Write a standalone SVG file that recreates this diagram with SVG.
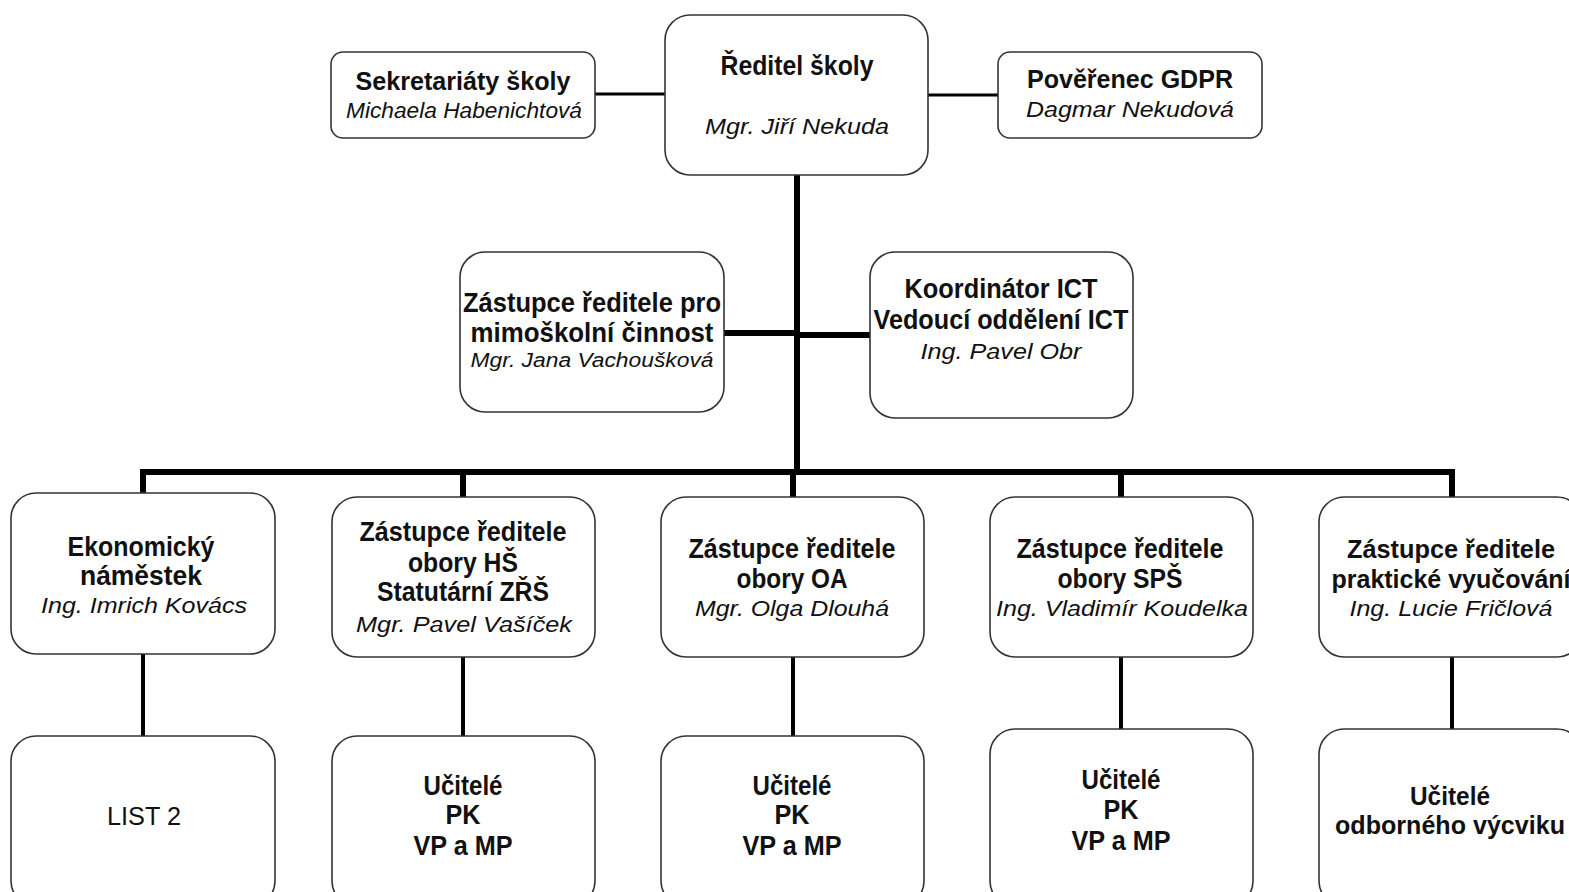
<svg xmlns="http://www.w3.org/2000/svg" width="1569" height="892" viewBox="0 0 1569 892">
<style>
.box{fill:#fff;stroke:#333;stroke-width:1.6}
.b{font-family:"Liberation Sans",Arial,sans-serif;font-weight:bold;font-size:25px;fill:#111;text-anchor:middle}
.c{font-family:"Liberation Sans",Arial,sans-serif;font-weight:bold;font-size:27px;fill:#111;text-anchor:middle}
.i{font-family:"Liberation Sans",Arial,sans-serif;font-style:italic;font-size:22px;fill:#111;text-anchor:middle}
.is{font-family:"Liberation Sans",Arial,sans-serif;font-style:italic;font-size:20px;fill:#111;text-anchor:middle}
.n{font-family:"Liberation Sans",Arial,sans-serif;font-size:26px;fill:#111;text-anchor:middle}
.w{stroke:#000;fill:none}
</style>
<rect width="1569" height="892" fill="#fff"/>
<g id="connectors">
<line class="w" x1="595" y1="94" x2="665" y2="94" stroke-width="3"/>
<line class="w" x1="928" y1="95" x2="998" y2="95" stroke-width="3"/>
<line class="w" x1="797" y1="175" x2="797" y2="475" stroke-width="6"/>
<line class="w" x1="724" y1="333" x2="797" y2="333" stroke-width="6"/>
<line class="w" x1="797" y1="335" x2="870" y2="335" stroke-width="6"/>
<line class="w" x1="140" y1="472" x2="1455" y2="472" stroke-width="6"/>
<line class="w" x1="143" y1="472" x2="143" y2="493" stroke-width="6"/>
<line class="w" x1="463" y1="472" x2="463" y2="497" stroke-width="6"/>
<line class="w" x1="793" y1="472" x2="793" y2="497" stroke-width="6"/>
<line class="w" x1="1121" y1="472" x2="1121" y2="497" stroke-width="6"/>
<line class="w" x1="1452" y1="472" x2="1452" y2="497" stroke-width="6"/>
<line class="w" x1="143" y1="654" x2="143" y2="736" stroke-width="4"/>
<line class="w" x1="463" y1="657" x2="463" y2="736" stroke-width="4"/>
<line class="w" x1="793" y1="657" x2="793" y2="736" stroke-width="4"/>
<line class="w" x1="1121" y1="657" x2="1121" y2="729" stroke-width="4"/>
<line class="w" x1="1452" y1="657" x2="1452" y2="729" stroke-width="4"/>
</g>
<g id="reditel">
<rect class="box" x="665" y="15" width="263" height="160" rx="25"/>
<text class="c" x="797" y="75" textLength="153" lengthAdjust="spacingAndGlyphs">Ředitel školy</text>
<text class="i" x="797" y="134" textLength="184" lengthAdjust="spacingAndGlyphs">Mgr. Jiří Nekuda</text>
</g>
<g id="sekretariaty">
<rect class="box" x="331" y="52" width="264" height="86" rx="12"/>
<text class="b" x="463" y="90" textLength="215" lengthAdjust="spacingAndGlyphs">Sekretariáty školy</text>
<text class="i" x="464" y="118" textLength="236" lengthAdjust="spacingAndGlyphs">Michaela Habenichtová</text>
</g>
<g id="gdpr">
<rect class="box" x="998" y="52" width="264" height="86" rx="12"/>
<text class="b" x="1130" y="88" textLength="206" lengthAdjust="spacingAndGlyphs">Pověřenec GDPR</text>
<text class="i" x="1130" y="117" textLength="208" lengthAdjust="spacingAndGlyphs">Dagmar Nekudová</text>
</g>
<g id="mimoskolni">
<rect class="box" x="460" y="252" width="264" height="160" rx="25"/>
<text class="c" x="592" y="312" textLength="258" lengthAdjust="spacingAndGlyphs">Zástupce ředitele pro</text>
<text class="c" x="592" y="342" textLength="243" lengthAdjust="spacingAndGlyphs">mimoškolní  činnost</text>
<text class="is" x="592" y="367" textLength="243" lengthAdjust="spacingAndGlyphs">Mgr. Jana Vachoušková</text>
</g>
<g id="ict">
<rect class="box" x="870" y="252" width="263" height="166" rx="25"/>
<text class="c" x="1001" y="298" textLength="193" lengthAdjust="spacingAndGlyphs">Koordinátor ICT</text>
<text class="c" x="1001" y="329" textLength="255" lengthAdjust="spacingAndGlyphs">Vedoucí oddělení ICT</text>
<text class="i" x="1001" y="359" textLength="161" lengthAdjust="spacingAndGlyphs">Ing. Pavel Obr</text>
</g>
<g id="ekonom">
<rect class="box" x="11" y="493" width="264" height="161" rx="25"/>
<text class="c" x="141" y="556" textLength="147" lengthAdjust="spacingAndGlyphs">Ekonomický</text>
<text class="c" x="141" y="585" textLength="122" lengthAdjust="spacingAndGlyphs">náměstek</text>
<text class="i" x="144" y="613" textLength="206" lengthAdjust="spacingAndGlyphs">Ing. Imrich Kovács</text>
</g>
<g id="zrs-hs">
<rect class="box" x="332" y="497" width="263" height="160" rx="25"/>
<text class="c" x="463" y="541" textLength="207" lengthAdjust="spacingAndGlyphs">Zástupce ředitele</text>
<text class="c" x="463" y="572" textLength="110" lengthAdjust="spacingAndGlyphs">obory HŠ</text>
<text class="c" x="463" y="601" textLength="172" lengthAdjust="spacingAndGlyphs">Statutární ZŘŠ</text>
<text class="i" x="464" y="632" textLength="216" lengthAdjust="spacingAndGlyphs">Mgr. Pavel Vašíček</text>
</g>
<g id="zrs-oa">
<rect class="box" x="661" y="497" width="263" height="160" rx="25"/>
<text class="c" x="792" y="558" textLength="207" lengthAdjust="spacingAndGlyphs">Zástupce ředitele</text>
<text class="c" x="792" y="588" textLength="111" lengthAdjust="spacingAndGlyphs">obory OA</text>
<text class="i" x="792" y="616" textLength="194" lengthAdjust="spacingAndGlyphs">Mgr. Olga Dlouhá</text>
</g>
<g id="zrs-sps">
<rect class="box" x="990" y="497" width="263" height="160" rx="25"/>
<text class="c" x="1120" y="558" textLength="207" lengthAdjust="spacingAndGlyphs">Zástupce ředitele</text>
<text class="c" x="1120" y="588" textLength="125" lengthAdjust="spacingAndGlyphs">obory SPŠ</text>
<text class="i" x="1122" y="616" textLength="252" lengthAdjust="spacingAndGlyphs">Ing. Vladimír Koudelka</text>
</g>
<g id="zrs-pv">
<rect class="box" x="1319" y="497" width="263" height="160" rx="25"/>
<text class="b" x="1451" y="558" textLength="208" lengthAdjust="spacingAndGlyphs">Zástupce ředitele</text>
<text class="b" x="1451" y="588">praktické vyučování</text>
<text class="i" x="1451" y="616" textLength="203" lengthAdjust="spacingAndGlyphs">Ing. Lucie Fričlová</text>
</g>
<g id="list2">
<rect class="box" x="11" y="736" width="264" height="170" rx="25"/>
<text class="n" x="144" y="825" textLength="74" lengthAdjust="spacingAndGlyphs">LIST 2</text>
</g>
<g id="ucitele-hs">
<rect class="box" x="332" y="736" width="263" height="170" rx="25"/>
<text class="c" x="463" y="795" textLength="79" lengthAdjust="spacingAndGlyphs">Učitelé</text>
<text class="c" x="463" y="824" textLength="35" lengthAdjust="spacingAndGlyphs">PK</text>
<text class="c" x="463" y="855" textLength="99" lengthAdjust="spacingAndGlyphs">VP a MP</text>
</g>
<g id="ucitele-oa">
<rect class="box" x="661" y="736" width="263" height="170" rx="25"/>
<text class="c" x="792" y="795" textLength="79" lengthAdjust="spacingAndGlyphs">Učitelé</text>
<text class="c" x="792" y="824" textLength="35" lengthAdjust="spacingAndGlyphs">PK</text>
<text class="c" x="792" y="855" textLength="99" lengthAdjust="spacingAndGlyphs">VP a MP</text>
</g>
<g id="ucitele-sps">
<rect class="box" x="990" y="729" width="263" height="177" rx="25"/>
<text class="c" x="1121" y="789" textLength="79" lengthAdjust="spacingAndGlyphs">Učitelé</text>
<text class="c" x="1121" y="819" textLength="35" lengthAdjust="spacingAndGlyphs">PK</text>
<text class="c" x="1121" y="850" textLength="99" lengthAdjust="spacingAndGlyphs">VP a MP</text>
</g>
<g id="ucitele-ov">
<rect class="box" x="1319" y="729" width="263" height="177" rx="25"/>
<text class="b" x="1450" y="805" textLength="80" lengthAdjust="spacingAndGlyphs">Učitelé</text>
<text class="b" x="1450" y="834" textLength="230" lengthAdjust="spacingAndGlyphs">odborného výcviku</text>
</g>
</svg>
